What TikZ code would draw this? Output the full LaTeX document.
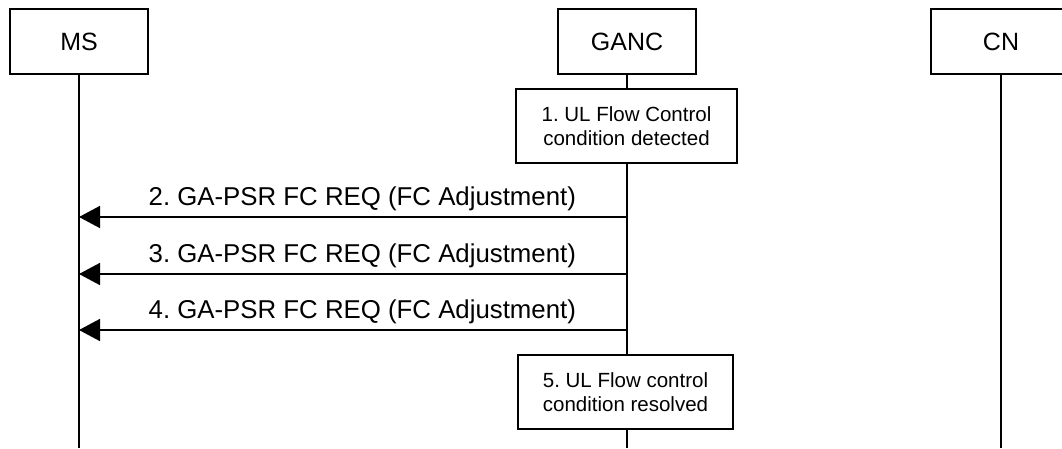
\documentclass[tikz,border=0pt]{standalone}
\usepackage{fontspec}
\setmainfont{Liberation Sans}
\usepackage{tikz}
\usetikzlibrary{arrows.meta,positioning,calc}
\frenchspacing

\begin{document}
\begin{tikzpicture}[
  x=1pt, y=-1pt,
  entity/.style={draw=black, fill=white, line width=1.3pt, minimum width=138pt,
    minimum height=65pt, inner sep=0pt, font=\fontsize{25}{30}\selectfont},
  stepbox/.style={draw=black, fill=white, line width=1.3pt, minimum width=221pt,
    minimum height=74pt, inner sep=0pt, align=center,
    font=\fontsize{20.5}{23.5}\selectfont},
  lifeline/.style={line width=2pt, black},
  msgarrow/.style={-{Triangle[length=21pt,width=22pt]}, line width=1.6pt, black},
  msglabel/.style={font=\fontsize{25.8}{30}\selectfont, inner sep=0pt, anchor=base}
]
\useasboundingbox (0,0) rectangle (1062,448);
\clip (0,0) rectangle (1062,448);
% ---------------- entities ----------------
\node[entity] (msbox) at (79,41.5) {MS};
\node[entity] (gancbox) at (627,41.5) {GANC};
\node[entity, minimum width=180pt] (cnbox) at (1021,41.5) {};
\node[font=\fontsize{25}{30}\selectfont] (cnname) at (1001,41.5) {CN};
\coordinate (bottom) at (0,448);
% ---------------- lifelines ----------------
\draw[lifeline] (msbox.south) -- (msbox.south |- bottom);
\draw[lifeline] (gancbox.south) -- (gancbox.south |- bottom);
\draw[lifeline] (cnname |- cnbox.south) -- (cnname |- bottom);
% ---------------- steps ----------------
\node[stepbox] (detect) at (626.5,126) {1. UL Flow Control\\condition detected};
\coordinate (m2) at (0,217);
\coordinate (m3) at (0,274);
\coordinate (m4) at (0,330);
\draw[msgarrow] (gancbox |- m2) -- (msbox |- m2)
  node[msglabel, pos=0.483, yshift=12pt] {2. GA-PSR FC REQ (FC Adjustment)};
\draw[msgarrow] (gancbox |- m3) -- (msbox |- m3)
  node[msglabel, pos=0.483, yshift=12pt] {3. GA-PSR FC REQ (FC Adjustment)};
\draw[msgarrow] (gancbox |- m4) -- (msbox |- m4)
  node[msglabel, pos=0.483, yshift=12pt] {4. GA-PSR FC REQ (FC Adjustment)};
\node[stepbox, minimum width=215pt] (resolve) at (625.5,392) {5. UL Flow control\\condition resolved};
\end{tikzpicture}
\end{document}
